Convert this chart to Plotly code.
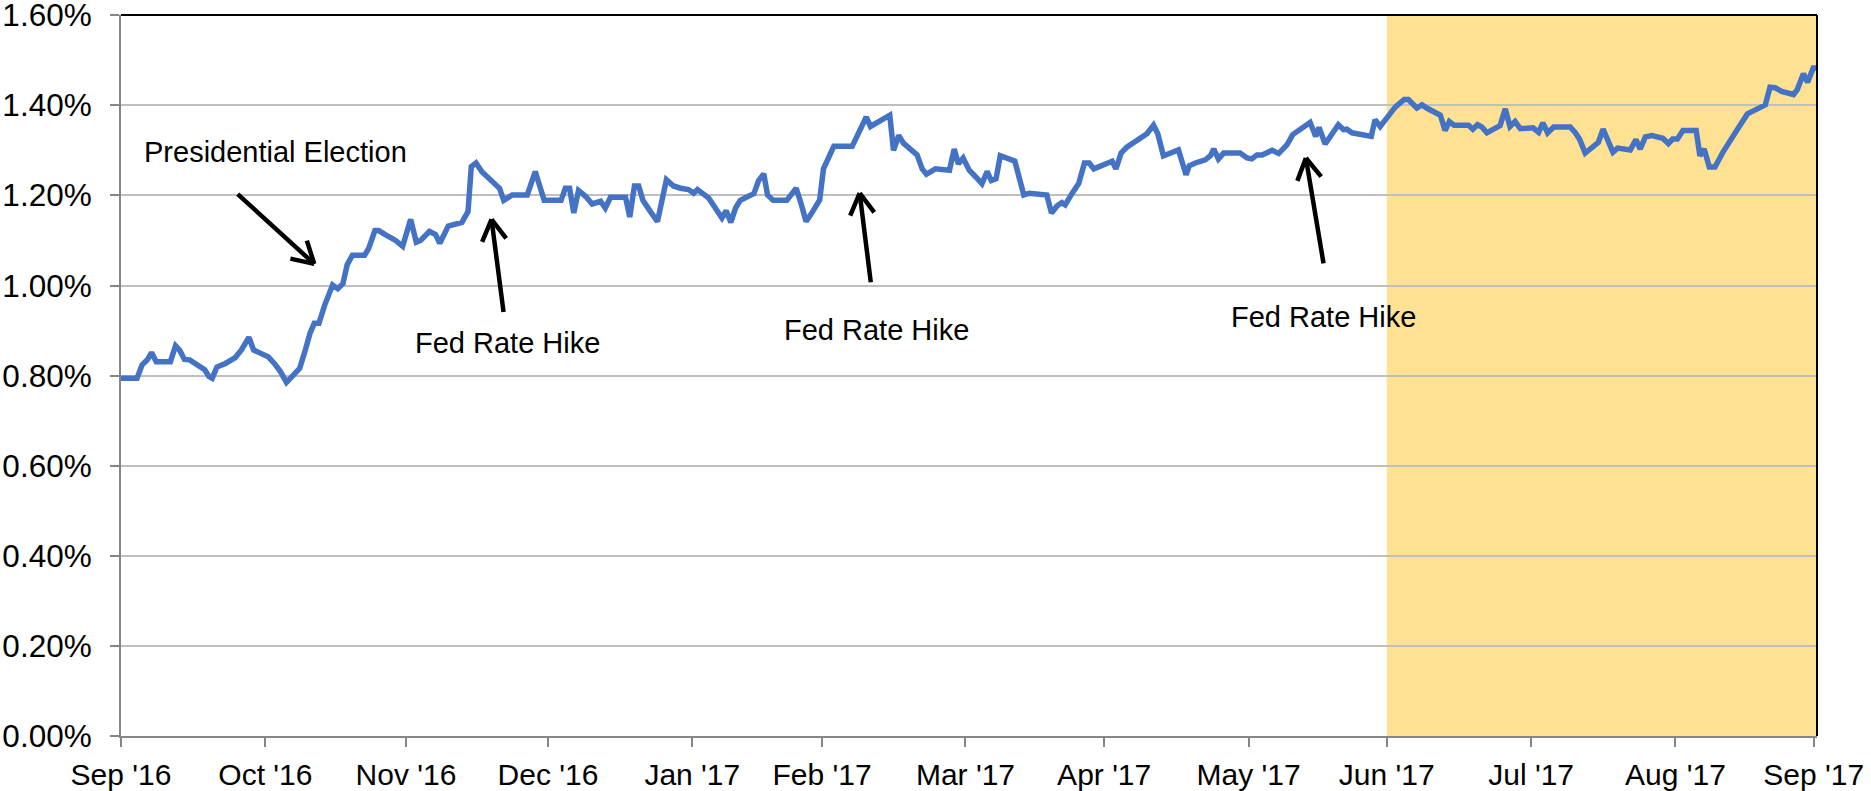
import math
import plotly.graph_objects as go

# ---- data (x = position along the date axis, y = yield in %) ----
day_pos = [0, 3.4, 4.5, 5.6, 6.5, 7.5, 10.5, 11.6, 12.5, 13.5, 14.6, 16.2, 17.8, 18.7, 19.4,
           20.4, 22.2, 24.3, 25.6, 27.2, 28.2, 29.4, 31.3, 32.7, 33.9, 35.2, 36.4, 38.0, 39.2,
           40.2, 41.1, 42.1, 43.3, 45.0, 46.1, 47.2, 48.1, 49.2, 51.8, 52.7, 54.0, 54.8, 56.2,
           58.4, 59.9, 61.6, 62.8, 63.7, 65.6, 66.9, 67.8, 69.6, 72.5, 73.1, 73.8, 74.5, 75.5,
           76.8, 78.6, 80.5, 81.4, 83.2, 86.4, 88.1,
           90.0, 93.6, 94.5, 95.4, 96.3, 97.3, 98.8, 100.2, 102.0, 103.0, 104.1, 107.3, 108.2,
           109.2, 110.1, 111.0, 112.6, 114.1, 116.0, 117.5, 119.0, 120.7, 121.8, 122.6, 123.9,
           125.0, 126.4, 127.8, 128.7, 129.7, 130.7, 131.7, 133.0, 134.6, 135.6, 136.7, 137.5,
           138.7, 141.6, 142.7, 143.6, 144.6, 145.7, 146.8, 148.6, 149.4, 150.5, 151.6, 155.5,
           156.5, 157.5, 158.5, 159.4, 160.4, 161.9, 163.5, 164.3, 165.4, 166.4, 167.5, 169.3,
           170.4, 171.3, 173.2, 176.2, 177.2, 178.1, 179.1,
           180.4, 181.7, 183.1, 184.2, 185.1, 186.1, 187.0, 190.1, 192.0, 193.2, 196.9, 197.9,
           199.1, 200.1, 200.8, 202.3, 203.7, 204.9, 205.9, 206.9, 210.8, 211.6, 212.7, 213.9,
           217.1, 218.2, 219.6, 220.5, 221.7, 224.9, 226.5, 227.2, 228.5, 230.6, 231.7, 232.4,
           233.4, 234.5, 238.0, 239.5, 240.5, 241.6, 242.7, 244.8, 246.2, 248.0, 249.2, 250.4,
           252.9, 254.1, 254.8, 256.1, 257.5, 258.9, 260.0, 260.7, 261.8, 263.6, 265.9, 266.7,
           267.8, 269.6, 271.0,
           272.9, 273.8, 275.6, 276.7, 277.7, 279.1, 280.6, 281.6, 282.5, 283.5, 286.6, 287.5,
           288.5, 289.4, 290.5, 291.9, 293.3, 294.4, 295.4, 296.5, 297.6, 300.3, 301.5, 302.4,
           303.4, 304.7, 308.2, 309.3, 310.2, 311.4, 312.8, 314.2, 315.2, 316.1, 317.3, 318.3,
           321.0, 322.2, 323.1, 324.2, 325.6, 327.9, 329.1, 330.0, 331.0, 332.2, 335.0, 335.8,
           336.7, 337.8, 339.0, 340.8, 342.6, 344.4, 345.9, 347.6, 349.7, 350.7, 351.8, 353.2,
           355.7, 356.5, 357.8, 358.7, 359.9, 360.7]

yield_pct = [0.794, 0.794, 0.824, 0.835, 0.851, 0.831, 0.831, 0.866, 0.856, 0.836, 0.835, 0.824,
             0.813, 0.798, 0.794, 0.819, 0.827, 0.840, 0.857, 0.885, 0.857, 0.851, 0.842, 0.826,
             0.809, 0.785, 0.799, 0.816, 0.857, 0.894, 0.916, 0.916, 0.956, 1.001, 0.993, 1.004,
             1.046, 1.067, 1.067, 1.083, 1.122, 1.122, 1.113, 1.100, 1.087, 1.147, 1.096, 1.100,
             1.120, 1.113, 1.094, 1.132, 1.140, 1.150, 1.164, 1.264, 1.272, 1.252, 1.235, 1.216,
             1.189, 1.201, 1.201, 1.253,
             1.189, 1.189, 1.216, 1.216, 1.161, 1.211, 1.198, 1.181, 1.187, 1.172, 1.196, 1.196,
             1.152, 1.221, 1.221, 1.189, 1.164, 1.142, 1.235, 1.221, 1.216, 1.213, 1.205, 1.213,
             1.203, 1.194, 1.172, 1.150, 1.166, 1.140, 1.172, 1.189, 1.196, 1.204, 1.233, 1.248,
             1.201, 1.189, 1.189, 1.205, 1.216, 1.183, 1.142, 1.159, 1.190, 1.259, 1.285, 1.309,
             1.309, 1.331, 1.353, 1.374, 1.353, 1.359, 1.368, 1.378, 1.300, 1.333, 1.316, 1.307,
             1.290, 1.259, 1.247, 1.259, 1.256, 1.303, 1.270, 1.283,
             1.256, 1.242, 1.226, 1.253, 1.233, 1.237, 1.288, 1.276, 1.201, 1.205, 1.201, 1.161,
             1.177, 1.184, 1.179, 1.205, 1.227, 1.272, 1.272, 1.259, 1.276, 1.259, 1.294, 1.307,
             1.327, 1.337, 1.356, 1.337, 1.288, 1.301, 1.246, 1.266, 1.272, 1.279, 1.288, 1.303,
             1.281, 1.294, 1.294, 1.283, 1.281, 1.290, 1.290, 1.300, 1.293, 1.313, 1.335, 1.344,
             1.362, 1.331, 1.351, 1.314, 1.337, 1.357, 1.346, 1.347, 1.339, 1.336, 1.331, 1.368,
             1.353, 1.377, 1.396,
             1.413, 1.413, 1.394, 1.401, 1.394, 1.387, 1.378, 1.344, 1.364, 1.356, 1.356, 1.347,
             1.357, 1.352, 1.339, 1.347, 1.355, 1.392, 1.353, 1.364, 1.348, 1.350, 1.340, 1.361,
             1.339, 1.352, 1.352, 1.339, 1.325, 1.294, 1.305, 1.318, 1.347, 1.324, 1.296, 1.305,
             1.301, 1.324, 1.303, 1.330, 1.333, 1.327, 1.315, 1.325, 1.325, 1.344, 1.344, 1.288,
             1.303, 1.263, 1.263, 1.298, 1.330, 1.357, 1.381, 1.390, 1.401, 1.440, 1.439, 1.431,
             1.424, 1.435, 1.470, 1.451, 1.483, 1.483]

month_ticks = [0, 30.7, 60.6, 90.8, 121.5, 149.1, 179.6, 209.1, 239.8, 269.2, 299.9, 330.6, 360]
month_labels = ["Sep '16", "Oct '16", "Nov '16", "Dec '16", "Jan '17", "Feb '17", "Mar '17",
                "Apr '17", "May '17", "Jun '17", "Jul '17", "Aug '17", "Sep '17"]
y_ticks = [0, 0.2, 0.4, 0.6, 0.8, 1.0, 1.2, 1.4, 1.6]
y_labels = ["0.00%", "0.20%", "0.40%", "0.60%", "0.80%", "1.00%", "1.20%", "1.40%", "1.60%"]

highlight_start = 269.2   # Jun '17
x_end = 360.7
y_top = 1.6

# annotations: (text, text_x, text_y, tail_x, tail_y, tip_x, tip_y)
notes = [
    ("Presidential Election", 32.9, 1.296, 24.5, 1.206, 41.1, 1.048),
    ("Fed Rate Hike", 82.2, 0.873, 81.4, 0.938, 78.8, 1.147),
    ("Fed Rate Hike", 160.6, 0.901, 159.5, 1.004, 157.1, 1.205),
    ("Fed Rate Hike", 255.7, 0.930, 255.8, 1.046, 252.0, 1.283),
]

# ---- layout geometry ----
W, H = 1871, 791
ML, MR, MT, MB = 120.5, 54, 15.3, 55
FONT = "Liberation Sans, Arial, sans-serif"
px_x = (W - ML - MR) / x_end
px_y = (H - MT - MB) / y_top

fig = go.Figure()
fig.add_trace(go.Scatter(x=day_pos, y=yield_pct, mode="lines",
                         line=dict(color="#4472C4", width=5.5), hoverinfo="skip",
                         showlegend=False, cliponaxis=True))

fig.add_shape(type="rect", xref="x", yref="y", x0=highlight_start, x1=x_end, y0=0, y1=y_top,
              fillcolor="#FFE194", line=dict(width=0), layer="below")
# black top and right border
fig.add_shape(type="line", xref="paper", yref="paper", x0=0, x1=1, y0=1, y1=1,
              line=dict(color="black", width=2), layer="above")
fig.add_shape(type="line", xref="paper", yref="paper", x0=1, x1=1, y0=0, y1=1,
              line=dict(color="black", width=2), layer="above")

annotations = []
for text, tx, ty, ax0, ay0, hx, hy in notes:
    annotations.append(dict(x=tx, y=ty, xref="x", yref="y", text=text, showarrow=False,
                            font=dict(family=FONT, size=29, color="black"),
                            xanchor="center", yanchor="middle"))
    # shaft
    annotations.append(dict(x=hx, y=hy, xref="x", yref="y", ax=ax0, ay=ay0,
                            axref="x", ayref="y", text="", showarrow=True, arrowhead=0,
                            arrowwidth=4.5, arrowcolor="black", standoff=0, startstandoff=0))
    # open V head: two wings
    dx = (ax0 - hx) * px_x
    dy = -(ay0 - hy) * px_y
    n = math.hypot(dx, dy)
    ux, uy = dx / n, dy / n
    for ang in (math.radians(30), math.radians(-30)):
        wx = ux * math.cos(ang) - uy * math.sin(ang)
        wy = ux * math.sin(ang) + uy * math.cos(ang)
        annotations.append(dict(x=hx, y=hy, xref="x", yref="y", ax=wx * 26, ay=wy * 26,
                                axref="pixel", ayref="pixel", text="", showarrow=True,
                                arrowhead=0, arrowwidth=4.5, arrowcolor="black",
                                standoff=0, startstandoff=0))

fig.update_layout(
    width=W, height=H,
    margin=dict(l=ML, r=MR, t=MT, b=MB, pad=0, autoexpand=False),
    paper_bgcolor="white", plot_bgcolor="white",
    font=dict(family=FONT, size=30, color="black"),
    annotations=annotations,
    xaxis=dict(range=[0, x_end], tickmode="array", tickvals=month_ticks, ticktext=month_labels,
               automargin=False, showgrid=False, zeroline=False, showline=True,
               linecolor="#868686", linewidth=2,
               ticks="outside", ticklen=9, tickwidth=2, tickcolor="#868686",
               ticklabelstandoff=2, ticklabeloverflow="allow",
               tickfont=dict(family=FONT, size=30, color="black")),
    yaxis=dict(range=[0, y_top + 0.0005], tickmode="array", tickvals=y_ticks, ticktext=y_labels,
               automargin=False, showgrid=True, gridcolor="#BFBFBF", gridwidth=2,
               zeroline=False, showline=True, linecolor="#868686", linewidth=2,
               ticks="outside", ticklen=9, tickwidth=2, tickcolor="#868686",
               ticklabelstandoff=12, ticklabeloverflow="allow",
               tickfont=dict(family=FONT, size=31.5, color="black")),
)

fig.write_html("out.html", config={"displayModeBar": False, "staticPlot": True},
               post_script="document.body.style.margin='0';document.body.style.overflow='hidden';")
